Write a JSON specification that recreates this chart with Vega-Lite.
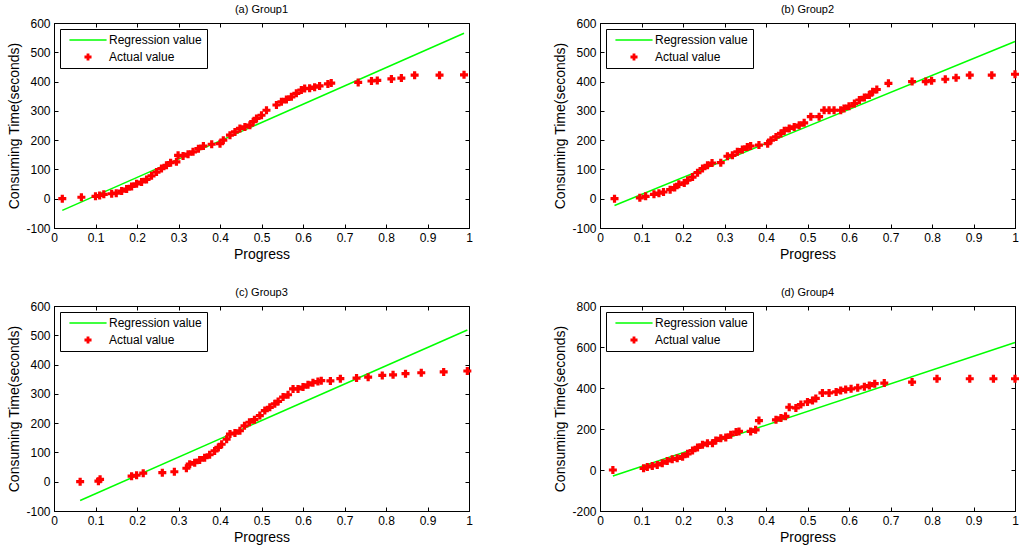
{
  "$schema": "https://vega.github.io/schema/vega-lite/v6.json",
  "description": "Consuming time against progress for four groups, regression line vs actual values",
  "background": "white",
  "padding": {"left": 7, "top": 3, "right": 2, "bottom": 2},
  "datasets": {
    "actual": [
      {"g": "a", "p": 0.02, "t": 0}, {"g": "a", "p": 0.066, "t": 5}, {"g": "a", "p": 0.1, "t": 8}, {"g": "a", "p": 0.11, "t": 11},
      {"g": "a", "p": 0.12, "t": 15}, {"g": "a", "p": 0.139, "t": 17}, {"g": "a", "p": 0.15, "t": 19}, {"g": "a", "p": 0.163, "t": 26},
      {"g": "a", "p": 0.175, "t": 33}, {"g": "a", "p": 0.187, "t": 42}, {"g": "a", "p": 0.199, "t": 51}, {"g": "a", "p": 0.211, "t": 57},
      {"g": "a", "p": 0.223, "t": 66}, {"g": "a", "p": 0.235, "t": 78}, {"g": "a", "p": 0.247, "t": 91}, {"g": "a", "p": 0.259, "t": 103},
      {"g": "a", "p": 0.271, "t": 114}, {"g": "a", "p": 0.281, "t": 123}, {"g": "a", "p": 0.295, "t": 126}, {"g": "a", "p": 0.299, "t": 148},
      {"g": "a", "p": 0.311, "t": 146}, {"g": "a", "p": 0.323, "t": 152}, {"g": "a", "p": 0.335, "t": 160}, {"g": "a", "p": 0.348, "t": 171},
      {"g": "a", "p": 0.36, "t": 180}, {"g": "a", "p": 0.38, "t": 186}, {"g": "a", "p": 0.4, "t": 188}, {"g": "a", "p": 0.408, "t": 200},
      {"g": "a", "p": 0.424, "t": 217}, {"g": "a", "p": 0.436, "t": 228}, {"g": "a", "p": 0.448, "t": 240}, {"g": "a", "p": 0.46, "t": 245},
      {"g": "a", "p": 0.472, "t": 251}, {"g": "a", "p": 0.48, "t": 263}, {"g": "a", "p": 0.488, "t": 274}, {"g": "a", "p": 0.5, "t": 285},
      {"g": "a", "p": 0.512, "t": 302}, {"g": "a", "p": 0.536, "t": 320}, {"g": "a", "p": 0.548, "t": 331}, {"g": "a", "p": 0.56, "t": 339},
      {"g": "a", "p": 0.572, "t": 348}, {"g": "a", "p": 0.584, "t": 360}, {"g": "a", "p": 0.596, "t": 371}, {"g": "a", "p": 0.604, "t": 376},
      {"g": "a", "p": 0.616, "t": 377}, {"g": "a", "p": 0.628, "t": 381}, {"g": "a", "p": 0.64, "t": 385}, {"g": "a", "p": 0.66, "t": 392},
      {"g": "a", "p": 0.668, "t": 395}, {"g": "a", "p": 0.733, "t": 397}, {"g": "a", "p": 0.765, "t": 402}, {"g": "a", "p": 0.779, "t": 404},
      {"g": "a", "p": 0.813, "t": 409}, {"g": "a", "p": 0.837, "t": 412}, {"g": "a", "p": 0.869, "t": 422}, {"g": "a", "p": 0.929, "t": 422},
      {"g": "a", "p": 0.988, "t": 423},
      {"g": "b", "p": 0.035, "t": 0}, {"g": "b", "p": 0.096, "t": 3}, {"g": "b", "p": 0.11, "t": 8}, {"g": "b", "p": 0.13, "t": 15},
      {"g": "b", "p": 0.142, "t": 19}, {"g": "b", "p": 0.153, "t": 23}, {"g": "b", "p": 0.169, "t": 31}, {"g": "b", "p": 0.18, "t": 38},
      {"g": "b", "p": 0.19, "t": 49}, {"g": "b", "p": 0.203, "t": 54}, {"g": "b", "p": 0.211, "t": 63}, {"g": "b", "p": 0.223, "t": 74},
      {"g": "b", "p": 0.235, "t": 89}, {"g": "b", "p": 0.247, "t": 103}, {"g": "b", "p": 0.259, "t": 114}, {"g": "b", "p": 0.27, "t": 122},
      {"g": "b", "p": 0.291, "t": 123}, {"g": "b", "p": 0.307, "t": 145}, {"g": "b", "p": 0.319, "t": 148}, {"g": "b", "p": 0.331, "t": 160},
      {"g": "b", "p": 0.343, "t": 168}, {"g": "b", "p": 0.355, "t": 177}, {"g": "b", "p": 0.363, "t": 180}, {"g": "b", "p": 0.383, "t": 183},
      {"g": "b", "p": 0.404, "t": 188}, {"g": "b", "p": 0.412, "t": 200}, {"g": "b", "p": 0.424, "t": 211}, {"g": "b", "p": 0.436, "t": 223},
      {"g": "b", "p": 0.444, "t": 232}, {"g": "b", "p": 0.456, "t": 240}, {"g": "b", "p": 0.468, "t": 245}, {"g": "b", "p": 0.48, "t": 251},
      {"g": "b", "p": 0.492, "t": 259}, {"g": "b", "p": 0.508, "t": 280}, {"g": "b", "p": 0.528, "t": 280}, {"g": "b", "p": 0.54, "t": 302},
      {"g": "b", "p": 0.552, "t": 302}, {"g": "b", "p": 0.564, "t": 302}, {"g": "b", "p": 0.58, "t": 302}, {"g": "b", "p": 0.588, "t": 308},
      {"g": "b", "p": 0.6, "t": 316}, {"g": "b", "p": 0.613, "t": 325}, {"g": "b", "p": 0.625, "t": 337}, {"g": "b", "p": 0.637, "t": 346},
      {"g": "b", "p": 0.649, "t": 354}, {"g": "b", "p": 0.657, "t": 365}, {"g": "b", "p": 0.667, "t": 373}, {"g": "b", "p": 0.695, "t": 394},
      {"g": "b", "p": 0.752, "t": 400}, {"g": "b", "p": 0.785, "t": 400}, {"g": "b", "p": 0.799, "t": 403}, {"g": "b", "p": 0.832, "t": 408},
      {"g": "b", "p": 0.858, "t": 413}, {"g": "b", "p": 0.891, "t": 422}, {"g": "b", "p": 0.944, "t": 422}, {"g": "b", "p": 1.0, "t": 425},
      {"g": "c", "p": 0.063, "t": 0}, {"g": "c", "p": 0.107, "t": 2}, {"g": "c", "p": 0.111, "t": 8}, {"g": "c", "p": 0.187, "t": 19},
      {"g": "c", "p": 0.199, "t": 22}, {"g": "c", "p": 0.215, "t": 29}, {"g": "c", "p": 0.261, "t": 31}, {"g": "c", "p": 0.29, "t": 34},
      {"g": "c", "p": 0.319, "t": 46}, {"g": "c", "p": 0.327, "t": 60}, {"g": "c", "p": 0.339, "t": 65}, {"g": "c", "p": 0.351, "t": 74},
      {"g": "c", "p": 0.363, "t": 82}, {"g": "c", "p": 0.375, "t": 92}, {"g": "c", "p": 0.387, "t": 105}, {"g": "c", "p": 0.396, "t": 117},
      {"g": "c", "p": 0.404, "t": 128}, {"g": "c", "p": 0.416, "t": 145}, {"g": "c", "p": 0.424, "t": 163}, {"g": "c", "p": 0.436, "t": 166},
      {"g": "c", "p": 0.448, "t": 174}, {"g": "c", "p": 0.459, "t": 191}, {"g": "c", "p": 0.471, "t": 203}, {"g": "c", "p": 0.483, "t": 212},
      {"g": "c", "p": 0.496, "t": 226}, {"g": "c", "p": 0.508, "t": 243}, {"g": "c", "p": 0.52, "t": 254}, {"g": "c", "p": 0.532, "t": 266},
      {"g": "c", "p": 0.54, "t": 274}, {"g": "c", "p": 0.552, "t": 289}, {"g": "c", "p": 0.564, "t": 297}, {"g": "c", "p": 0.576, "t": 317},
      {"g": "c", "p": 0.588, "t": 317}, {"g": "c", "p": 0.6, "t": 323}, {"g": "c", "p": 0.612, "t": 331}, {"g": "c", "p": 0.624, "t": 338},
      {"g": "c", "p": 0.636, "t": 342}, {"g": "c", "p": 0.644, "t": 345}, {"g": "c", "p": 0.666, "t": 344}, {"g": "c", "p": 0.69, "t": 352},
      {"g": "c", "p": 0.729, "t": 354}, {"g": "c", "p": 0.757, "t": 357}, {"g": "c", "p": 0.791, "t": 363}, {"g": "c", "p": 0.817, "t": 365},
      {"g": "c", "p": 0.847, "t": 369}, {"g": "c", "p": 0.885, "t": 372}, {"g": "c", "p": 0.939, "t": 375}, {"g": "c", "p": 0.996, "t": 378},
      {"g": "d", "p": 0.031, "t": 0}, {"g": "d", "p": 0.105, "t": 8}, {"g": "d", "p": 0.114, "t": 15}, {"g": "d", "p": 0.126, "t": 20},
      {"g": "d", "p": 0.138, "t": 25}, {"g": "d", "p": 0.15, "t": 33}, {"g": "d", "p": 0.162, "t": 44}, {"g": "d", "p": 0.174, "t": 52},
      {"g": "d", "p": 0.186, "t": 57}, {"g": "d", "p": 0.199, "t": 65}, {"g": "d", "p": 0.211, "t": 79}, {"g": "d", "p": 0.223, "t": 95},
      {"g": "d", "p": 0.235, "t": 110}, {"g": "d", "p": 0.247, "t": 123}, {"g": "d", "p": 0.259, "t": 131}, {"g": "d", "p": 0.271, "t": 131},
      {"g": "d", "p": 0.279, "t": 144}, {"g": "d", "p": 0.291, "t": 155}, {"g": "d", "p": 0.303, "t": 159}, {"g": "d", "p": 0.315, "t": 172},
      {"g": "d", "p": 0.328, "t": 185}, {"g": "d", "p": 0.335, "t": 188}, {"g": "d", "p": 0.363, "t": 188}, {"g": "d", "p": 0.375, "t": 196},
      {"g": "d", "p": 0.383, "t": 241}, {"g": "d", "p": 0.424, "t": 245}, {"g": "d", "p": 0.436, "t": 254}, {"g": "d", "p": 0.447, "t": 262},
      {"g": "d", "p": 0.456, "t": 306}, {"g": "d", "p": 0.472, "t": 303}, {"g": "d", "p": 0.484, "t": 319}, {"g": "d", "p": 0.5, "t": 332},
      {"g": "d", "p": 0.512, "t": 339}, {"g": "d", "p": 0.52, "t": 349}, {"g": "d", "p": 0.536, "t": 376}, {"g": "d", "p": 0.552, "t": 376},
      {"g": "d", "p": 0.569, "t": 381}, {"g": "d", "p": 0.58, "t": 388}, {"g": "d", "p": 0.592, "t": 393}, {"g": "d", "p": 0.605, "t": 396},
      {"g": "d", "p": 0.621, "t": 401}, {"g": "d", "p": 0.637, "t": 406}, {"g": "d", "p": 0.649, "t": 412}, {"g": "d", "p": 0.662, "t": 421},
      {"g": "d", "p": 0.685, "t": 424}, {"g": "d", "p": 0.752, "t": 429}, {"g": "d", "p": 0.812, "t": 445}, {"g": "d", "p": 0.891, "t": 445},
      {"g": "d", "p": 0.948, "t": 445}, {"g": "d", "p": 1.0, "t": 445}
    ],
    "regression": [
      {"g": "a", "p": 0.02, "t": -40}, {"g": "a", "p": 0.988, "t": 565},
      {"g": "b", "p": 0.035, "t": -23}, {"g": "b", "p": 1.0, "t": 537},
      {"g": "c", "p": 0.063, "t": -64}, {"g": "c", "p": 0.996, "t": 518},
      {"g": "d", "p": 0.031, "t": -29}, {"g": "d", "p": 1.0, "t": 622}
    ]
  },
  "columns": 2,
  "spacing": {"row": 24, "column": 80},
  "concat": [
    {
      "title": "(a) Group1",
      "width": 415,
      "height": 205,
      "layer": [
        {
          "data": {"name": "regression"},
          "transform": [{"filter": "datum.g == 'a'"}],
          "mark": {"type": "line", "color": "#00ff00", "strokeWidth": 1.5},
          "encoding": {
            "x": {"field": "p", "type": "quantitative", "scale": {"domain": [0, 1]}, "axis": {"orient": "top", "labels": false, "title": null, "domain": false, "values": [0, 0.1, 0.2, 0.3, 0.4, 0.5, 0.6, 0.7, 0.8, 0.9, 1]}},
            "y": {"field": "t", "type": "quantitative", "scale": {"domain": [-100, 600]}, "axis": {"orient": "right", "labels": false, "title": null, "domain": false, "values": [-100, 0, 100, 200, 300, 400, 500, 600]}}
          }
        },
        {
          "data": {"name": "actual"},
          "transform": [{"filter": "datum.g == 'a'"}],
          "mark": {"type": "point", "filled": true, "opacity": 1, "size": 64},
          "encoding": {
            "x": {"field": "p", "type": "quantitative", "title": "Progress", "axis": {"values": [0, 0.1, 0.2, 0.3, 0.4, 0.5, 0.6, 0.7, 0.8, 0.9, 1]}},
            "y": {"field": "t", "type": "quantitative", "title": "Consuming Time(seconds)", "axis": {"values": [-100, 0, 100, 200, 300, 400, 500, 600]}},
            "color": {"datum": "Actual value", "type": "nominal", "title": null, "scale": {"domain": ["Regression value", "Actual value"], "range": ["#00ff00", "#ff0000"]}},
            "shape": {"datum": "Actual value", "type": "nominal", "title": null, "scale": {"domain": ["Regression value", "Actual value"], "range": ["M-5.25,-0.22L5.25,-0.22L5.25,0.22L-5.25,0.22Z", "cross"]}}
          }
        }
      ],
      "resolve": {"axis": {"x": "independent", "y": "independent"}}
    },
    {
      "title": "(b) Group2",
      "width": 415,
      "height": 205,
      "layer": [
        {
          "data": {"name": "regression"},
          "transform": [{"filter": "datum.g == 'b'"}],
          "mark": {"type": "line", "color": "#00ff00", "strokeWidth": 1.5},
          "encoding": {
            "x": {"field": "p", "type": "quantitative", "scale": {"domain": [0, 1]}, "axis": {"orient": "top", "labels": false, "title": null, "domain": false, "values": [0, 0.1, 0.2, 0.3, 0.4, 0.5, 0.6, 0.7, 0.8, 0.9, 1]}},
            "y": {"field": "t", "type": "quantitative", "scale": {"domain": [-100, 600]}, "axis": {"orient": "right", "labels": false, "title": null, "domain": false, "values": [-100, 0, 100, 200, 300, 400, 500, 600]}}
          }
        },
        {
          "data": {"name": "actual"},
          "transform": [{"filter": "datum.g == 'b'"}],
          "mark": {"type": "point", "filled": true, "opacity": 1, "size": 64},
          "encoding": {
            "x": {"field": "p", "type": "quantitative", "title": "Progress", "axis": {"values": [0, 0.1, 0.2, 0.3, 0.4, 0.5, 0.6, 0.7, 0.8, 0.9, 1]}},
            "y": {"field": "t", "type": "quantitative", "title": "Consuming Time(seconds)", "axis": {"values": [-100, 0, 100, 200, 300, 400, 500, 600]}},
            "color": {"datum": "Actual value", "type": "nominal", "title": null, "scale": {"domain": ["Regression value", "Actual value"], "range": ["#00ff00", "#ff0000"]}},
            "shape": {"datum": "Actual value", "type": "nominal", "title": null, "scale": {"domain": ["Regression value", "Actual value"], "range": ["M-5.25,-0.22L5.25,-0.22L5.25,0.22L-5.25,0.22Z", "cross"]}}
          }
        }
      ],
      "resolve": {"axis": {"x": "independent", "y": "independent"}}
    },
    {
      "title": "(c) Group3",
      "width": 415,
      "height": 205,
      "layer": [
        {
          "data": {"name": "regression"},
          "transform": [{"filter": "datum.g == 'c'"}],
          "mark": {"type": "line", "color": "#00ff00", "strokeWidth": 1.5},
          "encoding": {
            "x": {"field": "p", "type": "quantitative", "scale": {"domain": [0, 1]}, "axis": {"orient": "top", "labels": false, "title": null, "domain": false, "values": [0, 0.1, 0.2, 0.3, 0.4, 0.5, 0.6, 0.7, 0.8, 0.9, 1]}},
            "y": {"field": "t", "type": "quantitative", "scale": {"domain": [-100, 600]}, "axis": {"orient": "right", "labels": false, "title": null, "domain": false, "values": [-100, 0, 100, 200, 300, 400, 500, 600]}}
          }
        },
        {
          "data": {"name": "actual"},
          "transform": [{"filter": "datum.g == 'c'"}],
          "mark": {"type": "point", "filled": true, "opacity": 1, "size": 64},
          "encoding": {
            "x": {"field": "p", "type": "quantitative", "title": "Progress", "axis": {"values": [0, 0.1, 0.2, 0.3, 0.4, 0.5, 0.6, 0.7, 0.8, 0.9, 1]}},
            "y": {"field": "t", "type": "quantitative", "title": "Consuming Time(seconds)", "axis": {"values": [-100, 0, 100, 200, 300, 400, 500, 600]}},
            "color": {"datum": "Actual value", "type": "nominal", "title": null, "scale": {"domain": ["Regression value", "Actual value"], "range": ["#00ff00", "#ff0000"]}},
            "shape": {"datum": "Actual value", "type": "nominal", "title": null, "scale": {"domain": ["Regression value", "Actual value"], "range": ["M-5.25,-0.22L5.25,-0.22L5.25,0.22L-5.25,0.22Z", "cross"]}}
          }
        }
      ],
      "resolve": {"axis": {"x": "independent", "y": "independent"}}
    },
    {
      "title": "(d) Group4",
      "width": 415,
      "height": 205,
      "layer": [
        {
          "data": {"name": "regression"},
          "transform": [{"filter": "datum.g == 'd'"}],
          "mark": {"type": "line", "color": "#00ff00", "strokeWidth": 1.5},
          "encoding": {
            "x": {"field": "p", "type": "quantitative", "scale": {"domain": [0, 1]}, "axis": {"orient": "top", "labels": false, "title": null, "domain": false, "values": [0, 0.1, 0.2, 0.3, 0.4, 0.5, 0.6, 0.7, 0.8, 0.9, 1]}},
            "y": {"field": "t", "type": "quantitative", "scale": {"domain": [-200, 800]}, "axis": {"orient": "right", "labels": false, "title": null, "domain": false, "values": [-200, 0, 200, 400, 600, 800]}}
          }
        },
        {
          "data": {"name": "actual"},
          "transform": [{"filter": "datum.g == 'd'"}],
          "mark": {"type": "point", "filled": true, "opacity": 1, "size": 64},
          "encoding": {
            "x": {"field": "p", "type": "quantitative", "title": "Progress", "axis": {"values": [0, 0.1, 0.2, 0.3, 0.4, 0.5, 0.6, 0.7, 0.8, 0.9, 1]}},
            "y": {"field": "t", "type": "quantitative", "title": "Consuming Time(seconds)", "axis": {"values": [-200, 0, 200, 400, 600, 800]}},
            "color": {"datum": "Actual value", "type": "nominal", "title": null, "scale": {"domain": ["Regression value", "Actual value"], "range": ["#00ff00", "#ff0000"]}},
            "shape": {"datum": "Actual value", "type": "nominal", "title": null, "scale": {"domain": ["Regression value", "Actual value"], "range": ["M-5.25,-0.22L5.25,-0.22L5.25,0.22L-5.25,0.22Z", "cross"]}}
          }
        }
      ],
      "resolve": {"axis": {"x": "independent", "y": "independent"}}
    }
  ],
  "resolve": {"scale": {"color": "independent", "shape": "independent"}, "legend": {"color": "independent", "shape": "independent"}},
  "config": {
    "font": "Liberation Sans",
    "view": {"stroke": "black", "strokeWidth": 1},
    "title": {"fontSize": 11, "fontWeight": "normal", "color": "black", "offset": 2, "font": "Liberation Sans"},
    "axis": {
      "grid": false,
      "domainColor": "black",
      "tickColor": "black",
      "tickSize": -4,
      "labelPadding": 8,
      "labelFontSize": 12,
      "labelColor": "black",
      "labelFont": "Liberation Sans",
      "titleFont": "Liberation Sans",
      "titleFontSize": 14,
      "titleFontWeight": "normal",
      "titleColor": "black",
      "titlePadding": 4,
      "labelExpr": "'' + datum.value",
      "labelFlush": false,
      "labelOverlap": false
    },
    "legend": {
      "orient": "top-left",
      "offset": 6,
      "fillColor": "white",
      "strokeColor": "black",
      "padding": 5,
      "symbolSize": 50,
      "symbolOffset": 17,
      "labelOffset": 15,
      "labelFontSize": 12,
      "labelFont": "Liberation Sans",
      "labelColor": "black",
      "rowPadding": 5
    }
  }
}
